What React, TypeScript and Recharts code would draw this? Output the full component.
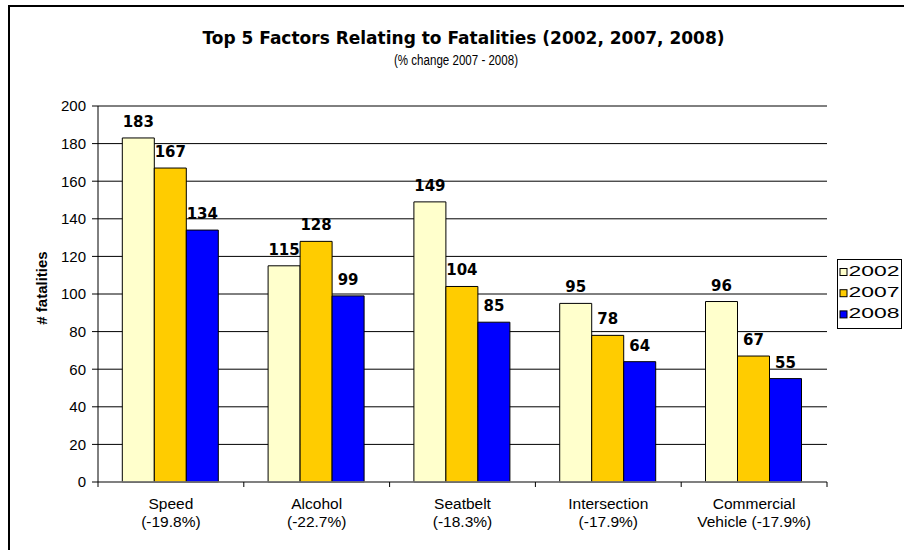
import React from 'react';
import { BarChart, Bar, XAxis, YAxis, CartesianGrid, LabelList, Legend } from 'recharts';

const categories = ['Speed\n(-19.8%)', 'Alcohol\n(-22.7%)', 'Seatbelt\n(-18.3%)', 'Intersection\n(-17.9%)', 'Commercial\nVehicle (-17.9%)'];
const values2002 = [183, 115, 149, 95, 96];
const values2007 = [167, 128, 104, 78, 67];
const values2008 = [134, 99, 85, 64, 55];
const yTicks = [0, 20, 40, 60, 80, 100, 120, 140, 160, 180, 200];
const seriesNames = ['2002', '2007', '2008'];
const seriesColors = ['#FFFFCC', '#FFCC00', '#0000FF'];
const title = 'Top 5 Factors Relating to Fatalities (2002, 2007, 2008)';
const subtitle = '(% change 2007 - 2008)';
const yLabel = '# fatalities';

const data = categories.map((c, i) => ({
  name: c,
  s2002: values2002[i],
  s2007: values2007[i],
  s2008: values2008[i],
}));
const keys = ['s2002', 's2007', 's2008'];

const ARIAL = '"Liberation Sans", Arial, sans-serif';
const VERD = '"DejaVu Sans", Verdana, sans-serif';

const XTick = (props: any) => {
  const { x, y, payload, index } = props;
  const half = payload && payload.offset ? payload.offset : 72.9;
  const lines = String(payload.value).split('\n');
  return (
    <g>
      <line x1={x - half} x2={x - half} y1={y} y2={y + 5} stroke="#000" />
      {index === categories.length - 1 && (
        <line x1={x + half} x2={x + half} y1={y} y2={y + 5} stroke="#000" />
      )}
      <text x={x} y={y + 27} textAnchor="middle" fontFamily={ARIAL} fontSize={15.5} fill="#000">
        <tspan x={x}>{lines[0]}</tspan>
        <tspan x={x} dy={17.5}>{lines[1]}</tspan>
      </text>
    </g>
  );
};

const renderLegend = () => (
  <svg width={66} height={70} style={{ display: 'block' }}>
    <rect x={0.5} y={0.5} width={64} height={69} fill="#fff" stroke="#000" />
    {seriesNames.map((n, i) => (
      <g key={n}>
        <rect x={3} y={9.5 + i * 21.2} width={7} height={7} fill={seriesColors[i]} stroke="#000" />
        <text x={11.5} y={16.7 + i * 21.2} fontFamily={ARIAL} fontSize={14} fill="#000" textLength={51} lengthAdjust="spacingAndGlyphs">{n}</text>
      </g>
    ))}
  </svg>
);

export default function App() {
  return (
    <div style={{ position: 'absolute', left: 0, top: 0, width: 904, height: 550, overflow: 'hidden', background: '#fff' }}>
      <div style={{ position: 'absolute', left: 8, top: 5, width: 2000, height: 2000, border: '2px solid #000', boxSizing: 'border-box' }} />
      <div style={{ position: 'absolute', left: 0, top: 0 }}>
        <BarChart
          width={904}
          height={550}
          data={data}
          margin={{ top: 106, right: 77, bottom: 0, left: 0 }}
          barCategoryGap="16.67%"
          barGap={0}
        >
          <CartesianGrid horizontal vertical={false} stroke="#000" strokeWidth={1} />
          <XAxis
            dataKey="name"
            tick={<XTick />}
            tickLine={false}
            tickSize={0}
            tickMargin={0}
            axisLine={{ stroke: '#808080', strokeWidth: 1.5 }}
            interval={0}
            height={68}
          />
          <YAxis
            width={98}
            domain={[0, 200]}
            ticks={yTicks}
            interval={0}
            tickSize={6}
            tickMargin={6}
            tickLine={{ stroke: '#000' }}
            axisLine={{ stroke: '#000' }}
            tick={{ fontFamily: ARIAL, fontSize: 15, fill: '#000' }}
          />
          <Legend
            layout="horizontal"
            align="center"
            verticalAlign="middle"
            content={renderLegend}
            wrapperStyle={{ left: 837, top: 259, width: 66, height: 70 }}
          />
          {keys.map((k, i) => (
            <Bar key={k} dataKey={k} name={seriesNames[i]} fill={seriesColors[i]} stroke="#000" strokeWidth={1} isAnimationActive={false}>
              <LabelList dataKey={k} position="top" offset={11} fill="#000" fontSize={15} fontWeight="bold" fontFamily={VERD} />
            </Bar>
          ))}
        </BarChart>
      </div>
      <svg width={904} height={550} style={{ position: 'absolute', left: 0, top: 0, pointerEvents: 'none' }}>
        <text x={463.5} y={44.3} textAnchor="middle" fontFamily={VERD} fontWeight="bold" fontSize={17} fill="#000">{title}</text>
        <text x={456} y={65} textAnchor="middle" fontFamily={ARIAL} fontSize={14} fill="#000" textLength={124} lengthAdjust="spacingAndGlyphs">{subtitle}</text>
        <text x={47} y={288} textAnchor="middle" fontFamily={ARIAL} fontWeight="bold" fontSize={15} fill="#000" transform="rotate(-90, 47, 288)">{yLabel}</text>
      </svg>
    </div>
  );
}
